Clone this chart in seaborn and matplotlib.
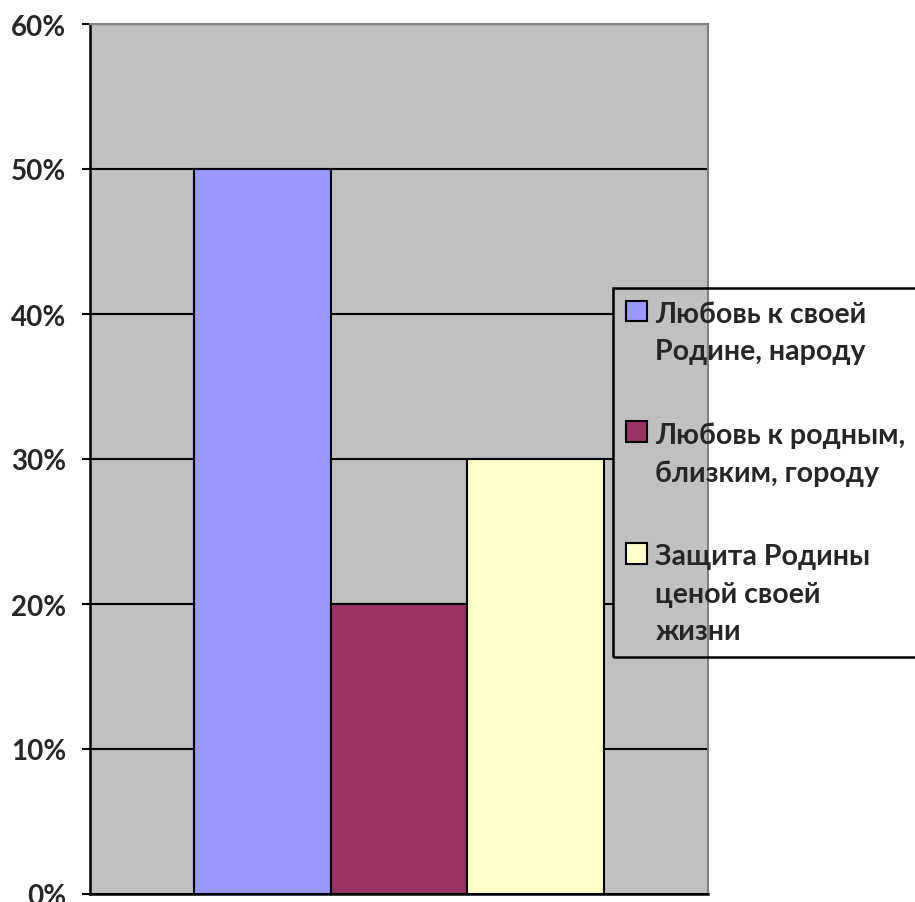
import matplotlib
matplotlib.use("Agg")
import matplotlib.pyplot as plt
import seaborn as sns
import pandas as pd
from matplotlib.patches import Patch, Rectangle
from matplotlib.ticker import PercentFormatter

# Data
category = [""]  # single unnamed category
series = [
    "Любовь к своей\nРодине, народу",
    "Любовь к родным,\nблизким, городу",
    "Защита Родины\nценой своей\nжизни",
]
values = [50, 20, 30]
colors = ["#9999FF", "#993366", "#FFFFCC"]
y_ticks = [0, 10, 20, 30, 40, 50, 60]

df = pd.DataFrame({
    "cat": category * len(series),
    "series": series,
    "value": values,
})

sns.set_theme(style="white")
plt.rcParams["font.family"] = ["Lato", "DejaVu Sans"]
plt.rcParams["font.weight"] = "bold"

fig = plt.figure(figsize=(9.15, 9.03), dpi=100)
ax = fig.add_axes([90 / 915, 8 / 903, 618 / 915, 870 / 903])
ax.set_facecolor("#C0C0C0")

sns.barplot(data=df, x="cat", y="value", hue="series", hue_order=series,
            palette=colors, saturation=1, width=0.665, gap=0,
            edgecolor="black", linewidth=1.5, legend=False, ax=ax, zorder=3)

ax.set_xlim(-0.5, 0.5)
ax.set_ylim(0, 60)
ax.set_yticks(y_ticks)
ax.yaxis.set_major_formatter(PercentFormatter(xmax=100, decimals=0))
ax.set_axisbelow(True)
ax.yaxis.grid(True, color="black", linewidth=1.5)
ax.set_xlabel("")
ax.set_ylabel("")

ax.set_xticks([-0.5, 0.5])
ax.set_xticklabels([])
ax.tick_params(axis="x", direction="out", length=8, width=1.5, color="black")
ax.tick_params(axis="y", direction="out", length=6, width=1.5, color="black",
               pad=11, labelsize=20, left=True)

for side in ["left", "bottom"]:
    ax.spines[side].set_color("black")
    ax.spines[side].set_linewidth(1.8)
for side in ["top", "right"]:
    ax.spines[side].set_color("#808080")
    ax.spines[side].set_linewidth(1.5)

handles = [Patch(facecolor=c, edgecolor="black", linewidth=1.5) for c in colors]
leg = ax.legend(handles, series, loc="upper left",
                bbox_to_anchor=(613 / 915, 1 - 289 / 903),
                bbox_transform=fig.transFigure, borderaxespad=0,
                frameon=True, fancybox=False, edgecolor="black",
                facecolor="none", framealpha=1, fontsize=20.5,
                handlelength=0.74, handleheight=0.74, handletextpad=0.3,
                borderpad=0.45, labelspacing=2.0)
leg.get_frame().set_linewidth(1.8)
for t in leg.get_texts():
    t.set_linespacing(1.55)
# put each marker next to the first line of its label, like Excel does
for col in leg._legend_handle_box.get_children():
    for item in col.get_children():
        item.align = "top"

# the legend has no fill: the plot area shows through it but the gridlines don't
fig.canvas.draw()
bb = leg.get_window_extent().transformed(ax.transAxes.inverted())
ax.add_patch(Rectangle((bb.x0, bb.y0), bb.width, bb.height,
                       transform=ax.transAxes, facecolor="#C0C0C0",
                       edgecolor="none", zorder=1, clip_on=True))

fig.savefig("out.png", dpi=100)
